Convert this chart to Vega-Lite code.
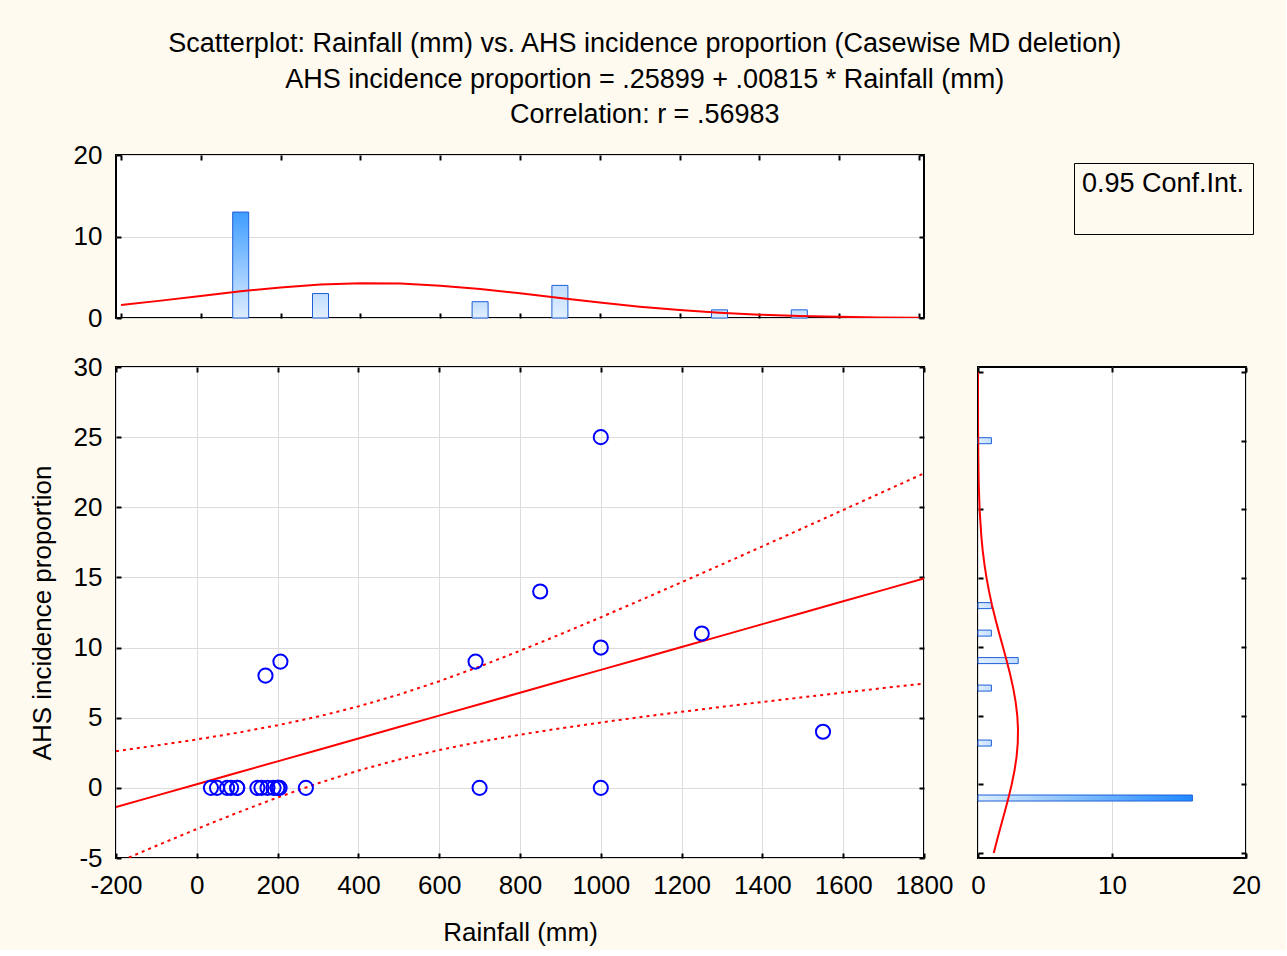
{
  "$schema": "https://vega.github.io/schema/vega-lite/v6.json",
  "background": "#FFFAF0",
  "padding": {"left": 28, "top": 30, "right": 24, "bottom": 4},
  "title": {
    "text": ["Scatterplot: Rainfall (mm) vs. AHS incidence proportion (Casewise MD deletion)", "AHS incidence proportion = .25899 + .00815 * Rainfall (mm)", "Correlation: r = .56983"],
    "fontSize": 27, "font": "Liberation Sans", "fontWeight": "normal", "color": "black",
    "lineHeight": 35.3, "offset": 12, "anchor": "middle", "frame": "bounds"
  },
  "config": {
    "view": {"fill": "white", "stroke": "black", "strokeWidth": 2},
    "axis": {
      "labelFont": "Liberation Sans", "labelFontSize": 26, "labelColor": "black",
      "titleFont": "Liberation Sans", "titleFontSize": 26, "titleFontWeight": "normal", "titleColor": "black",
      "tickColor": "black", "tickWidth": 2, "tickSize": -5, "domain": false,
      "gridColor": "#DCDCDC", "gridWidth": 1, "labelPadding": 19,
      "labelFlush": false, "labelOverlap": false, "labelExpr": "'' + datum.value"
    },
    "legend": {"titleFont": "Liberation Sans", "labelFont": "Liberation Sans"}
  },
  "datasets": {
    "points": [
      {"rain": 35, "ahs": 0}, {"rain": 50, "ahs": 0}, {"rain": 75, "ahs": 0}, {"rain": 85, "ahs": 0},
      {"rain": 100, "ahs": 0}, {"rain": 100, "ahs": 0}, {"rain": 150, "ahs": 0}, {"rain": 160, "ahs": 0},
      {"rain": 175, "ahs": 0}, {"rain": 190, "ahs": 0}, {"rain": 200, "ahs": 0}, {"rain": 200, "ahs": 0},
      {"rain": 205, "ahs": 0}, {"rain": 270, "ahs": 0}, {"rain": 700, "ahs": 0}, {"rain": 1000, "ahs": 0},
      {"rain": 170, "ahs": 8}, {"rain": 207, "ahs": 9}, {"rain": 690, "ahs": 9}, {"rain": 850, "ahs": 14},
      {"rain": 1000, "ahs": 25}, {"rain": 1000, "ahs": 10}, {"rain": 1250, "ahs": 11}, {"rain": 1550, "ahs": 4}
    ],
    "band": [
      {"rain": -200, "fit": -1.371, "lower": -5.358, "upper": 2.616},
      {"rain": -100, "fit": -0.556, "lower": -4.129, "upper": 3.017},
      {"rain": 0, "fit": 0.259, "lower": -2.931, "upper": 3.449},
      {"rain": 100, "fit": 1.074, "lower": -1.777, "upper": 3.925},
      {"rain": 200, "fit": 1.889, "lower": -0.684, "upper": 4.462},
      {"rain": 300, "fit": 2.704, "lower": 0.326, "upper": 5.082},
      {"rain": 400, "fit": 3.519, "lower": 1.232, "upper": 5.806},
      {"rain": 500, "fit": 4.334, "lower": 2.022, "upper": 6.646},
      {"rain": 600, "fit": 5.149, "lower": 2.698, "upper": 7.6},
      {"rain": 700, "fit": 5.964, "lower": 3.28, "upper": 8.648},
      {"rain": 800, "fit": 6.779, "lower": 3.788, "upper": 9.77},
      {"rain": 900, "fit": 7.594, "lower": 4.243, "upper": 10.945},
      {"rain": 1000, "fit": 8.409, "lower": 4.66, "upper": 12.158},
      {"rain": 1100, "fit": 9.224, "lower": 5.05, "upper": 13.398},
      {"rain": 1200, "fit": 10.039, "lower": 5.421, "upper": 14.657},
      {"rain": 1300, "fit": 10.854, "lower": 5.777, "upper": 15.931},
      {"rain": 1400, "fit": 11.669, "lower": 6.122, "upper": 17.216},
      {"rain": 1500, "fit": 12.484, "lower": 6.459, "upper": 18.509},
      {"rain": 1600, "fit": 13.299, "lower": 6.789, "upper": 19.809},
      {"rain": 1700, "fit": 14.114, "lower": 7.115, "upper": 21.113},
      {"rain": 1800, "fit": 14.929, "lower": 7.436, "upper": 22.422}
    ],
    "rainHist": [
      {"mid": 100, "count": 13}, {"mid": 300, "count": 3}, {"mid": 700, "count": 2},
      {"mid": 900, "count": 4}, {"mid": 1300, "count": 1}, {"mid": 1500, "count": 1}
    ],
    "ahsHist": [
      {"mid": -1, "count": 16}, {"mid": 3, "count": 1}, {"mid": 7, "count": 1}, {"mid": 9, "count": 3},
      {"mid": 11, "count": 1}, {"mid": 13, "count": 1}, {"mid": 25, "count": 1}
    ],
    "rainCurve": [
      {"rain": -200, "dens": 1.598}, {"rain": -100, "dens": 2.132}, {"rain": 0, "dens": 2.706},
      {"rain": 100, "dens": 3.268}, {"rain": 200, "dens": 3.754}, {"rain": 300, "dens": 4.102},
      {"rain": 400, "dens": 4.265}, {"rain": 500, "dens": 4.22}, {"rain": 600, "dens": 3.971},
      {"rain": 700, "dens": 3.556}, {"rain": 800, "dens": 3.029}, {"rain": 900, "dens": 2.455},
      {"rain": 1000, "dens": 1.893}, {"rain": 1100, "dens": 1.389}, {"rain": 1200, "dens": 0.97},
      {"rain": 1300, "dens": 0.644}, {"rain": 1400, "dens": 0.407}, {"rain": 1500, "dens": 0.244},
      {"rain": 1600, "dens": 0.14}, {"rain": 1700, "dens": 0.076}, {"rain": 1800, "dens": 0.039}
    ],
    "ahsCurve": [
      {"ahs": -5, "dens": 1.177}, {"ahs": -4, "dens": 1.438}, {"ahs": -3, "dens": 1.716},
      {"ahs": -2, "dens": 1.998}, {"ahs": -1, "dens": 2.27}, {"ahs": 0, "dens": 2.517},
      {"ahs": 1, "dens": 2.724}, {"ahs": 2, "dens": 2.878}, {"ahs": 3, "dens": 2.967},
      {"ahs": 4, "dens": 2.985}, {"ahs": 5, "dens": 2.931}, {"ahs": 6, "dens": 2.809},
      {"ahs": 7, "dens": 2.627}, {"ahs": 8, "dens": 2.398}, {"ahs": 9, "dens": 2.136},
      {"ahs": 10, "dens": 1.857}, {"ahs": 11, "dens": 1.576}, {"ahs": 12, "dens": 1.305},
      {"ahs": 13, "dens": 1.054}, {"ahs": 14, "dens": 0.832}, {"ahs": 15, "dens": 0.64},
      {"ahs": 16, "dens": 0.481}, {"ahs": 17, "dens": 0.353}, {"ahs": 18, "dens": 0.252},
      {"ahs": 20, "dens": 0.12}, {"ahs": 22, "dens": 0.052}, {"ahs": 24, "dens": 0.02},
      {"ahs": 26, "dens": 0.007}, {"ahs": 28, "dens": 0.002}, {"ahs": 30, "dens": 0.001}
    ]
  },
  "vconcat": [
    {
      "width": 808, "height": 163,
      "layer": [
        {
          "layer": [
            {
              "data": {"name": "rainHist"},
              "transform": [{"filter": "datum.count >= 10"}],
              "mark": {"type": "bar", "size": 16, "stroke": "#1E5FD8", "strokeWidth": 1,
                "fill": {"gradient": "linear", "x1": 0, "y1": 1, "x2": 0, "y2": 0,
                  "stops": [{"offset": 0, "color": "#DDEDFF"}, {"offset": 1, "color": "#3F9DFF"}]}},
              "encoding": {
                "x": {"field": "mid", "type": "quantitative", "scale": {"domain": [-200, 1800], "nice": false, "zero": false},
                  "axis": {"values": [-200, 0, 200, 400, 600, 800, 1000, 1200, 1400, 1600, 1800], "labels": false, "grid": false, "title": null}},
                "y": {"field": "count", "type": "quantitative", "scale": {"domain": [0, 20], "nice": false},
                  "axis": {"values": [0, 10, 20], "grid": true, "title": null}}
              }
            },
            {
              "data": {"name": "rainHist"},
              "transform": [{"filter": "datum.count < 10"}],
              "mark": {"type": "bar", "size": 16, "stroke": "#1E5FD8", "strokeWidth": 1,
                "fill": {"gradient": "linear", "x1": 0, "y1": 1, "x2": 0, "y2": 0,
                  "stops": [{"offset": 0, "color": "#E2F0FF"}, {"offset": 1, "color": "#C2DEFF"}]}},
              "encoding": {
                "x": {"field": "mid", "type": "quantitative", "scale": {"domain": [-200, 1800], "nice": false, "zero": false}},
                "y": {"field": "count", "type": "quantitative", "scale": {"domain": [0, 20], "nice": false}}
              }
            },
            {
              "data": {"name": "rainCurve"},
              "mark": {"type": "line", "color": "#FF0000", "strokeWidth": 2, "clip": true},
              "encoding": {
                "x": {"field": "rain", "type": "quantitative", "scale": {"domain": [-200, 1800], "nice": false, "zero": false}},
                "y": {"field": "dens", "type": "quantitative", "scale": {"domain": [0, 20], "nice": false}}
              }
            }
          ]
        },
        {
          "data": {"name": "rainHist"},
          "mark": {"type": "point", "opacity": 0},
          "encoding": {
            "x": {"field": "mid", "type": "quantitative", "scale": {"domain": [-200, 1800], "nice": false, "zero": false},
              "axis": {"orient": "top", "values": [-200, 0, 200, 400, 600, 800, 1000, 1200, 1400, 1600, 1800], "labels": false, "grid": false, "title": null}},
            "y": {"field": "count", "type": "quantitative", "scale": {"domain": [0, 20], "nice": false},
              "axis": {"orient": "right", "values": [0, 10, 20], "labels": false, "grid": false, "title": null}}
          }
        }
      ],
      "resolve": {"axis": {"x": "independent", "y": "independent"}}
    },
    {
      "hconcat": [
        {
          "width": 808, "height": 491,
          "layer": [
            {
              "layer": [
                {
                  "data": {"name": "band"},
                  "mark": {"type": "line", "color": "#FF0000", "strokeWidth": 2, "clip": true},
                  "encoding": {
                    "x": {"field": "rain", "type": "quantitative", "title": "Rainfall (mm)",
                      "scale": {"domain": [-200, 1800], "nice": false, "zero": false},
                      "axis": {"values": [-200, 0, 200, 400, 600, 800, 1000, 1200, 1400, 1600, 1800], "grid": true, "title": "Rainfall (mm)", "titlePadding": 21}},
                    "y": {"field": "fit", "type": "quantitative", "title": "AHS incidence proportion",
                      "scale": {"domain": [-5, 30], "nice": false, "zero": false},
                      "axis": {"values": [-5, 0, 5, 10, 15, 20, 25, 30], "grid": true, "title": "AHS incidence proportion", "titlePadding": 18}}
                  }
                },
                {
                  "data": {"name": "band"},
                  "mark": {"type": "line", "color": "#FF0000", "strokeWidth": 2, "clip": true},
                  "encoding": {
                    "x": {"field": "rain", "type": "quantitative", "title": "Rainfall (mm)", "scale": {"domain": [-200, 1800], "nice": false, "zero": false}},
                    "y": {"field": "upper", "type": "quantitative", "title": "AHS incidence proportion", "scale": {"domain": [-5, 30], "nice": false, "zero": false}},
                    "strokeDash": {"datum": "0.95 Conf.Int.", "scale": {"range": [[3, 4]]},
                      "legend": {"orient": "none", "legendX": 958, "legendY": 8, "title": "0.95 Conf.Int.",
                        "titleFontSize": 27, "titleFontWeight": "normal", "titleColor": "black", "titlePadding": 4,
                        "labelExpr": "''", "symbolOpacity": 0, "symbolStrokeWidth": 0, "symbolSize": 1300,
                        "strokeColor": "black", "padding": 8}}
                  }
                },
                {
                  "data": {"name": "band"},
                  "mark": {"type": "line", "color": "#FF0000", "strokeWidth": 2, "clip": true},
                  "encoding": {
                    "x": {"field": "rain", "type": "quantitative", "title": "Rainfall (mm)", "scale": {"domain": [-200, 1800], "nice": false, "zero": false}},
                    "y": {"field": "lower", "type": "quantitative", "title": "AHS incidence proportion", "scale": {"domain": [-5, 30], "nice": false, "zero": false}},
                    "strokeDash": {"datum": "0.95 Conf.Int."}
                  }
                },
                {
                  "data": {"name": "points"},
                  "mark": {"type": "point", "shape": "circle", "filled": false, "color": "#0000FF", "strokeWidth": 2, "size": 200, "opacity": 1},
                  "encoding": {
                    "x": {"field": "rain", "type": "quantitative", "title": "Rainfall (mm)", "scale": {"domain": [-200, 1800], "nice": false, "zero": false}},
                    "y": {"field": "ahs", "type": "quantitative", "title": "AHS incidence proportion", "scale": {"domain": [-5, 30], "nice": false, "zero": false}}
                  }
                }
              ]
            },
            {
              "data": {"name": "points"},
              "mark": {"type": "point", "opacity": 0},
              "encoding": {
                "x": {"field": "rain", "type": "quantitative", "scale": {"domain": [-200, 1800], "nice": false, "zero": false},
                  "axis": {"orient": "top", "values": [-200, 0, 200, 400, 600, 800, 1000, 1200, 1400, 1600, 1800], "labels": false, "grid": false, "title": null}},
                "y": {"field": "ahs", "type": "quantitative", "scale": {"domain": [-5, 30], "nice": false, "zero": false},
                  "axis": {"orient": "right", "values": [-5, 0, 5, 10, 15, 20, 25, 30], "labels": false, "grid": false, "title": null}}
              }
            }
          ],
          "resolve": {"axis": {"x": "independent", "y": "independent"}}
        },
        {
          "width": 268, "height": 491,
          "layer": [
            {
              "layer": [
                {
                  "data": {"name": "ahsHist"},
                  "transform": [{"filter": "datum.count >= 10"}],
                  "mark": {"type": "bar", "orient": "horizontal", "size": 6, "stroke": "#1E5FD8", "strokeWidth": 1,
                    "fill": {"gradient": "linear", "x1": 0, "y1": 0, "x2": 1, "y2": 0,
                      "stops": [{"offset": 0, "color": "#DDEDFF"}, {"offset": 1, "color": "#1E88FF"}]}},
                  "encoding": {
                    "x": {"field": "count", "type": "quantitative", "scale": {"domain": [0, 20], "nice": false},
                      "axis": {"values": [0, 10, 20], "grid": true, "title": null}},
                    "y": {"field": "mid", "type": "quantitative", "scale": {"domain": [-5, 30], "nice": false, "zero": false},
                      "axis": {"values": [-5, 0, 5, 10, 15, 20, 25, 30], "labels": false, "grid": false, "title": null}}
                  }
                },
                {
                  "data": {"name": "ahsHist"},
                  "transform": [{"filter": "datum.count < 10"}],
                  "mark": {"type": "bar", "orient": "horizontal", "size": 6, "stroke": "#1E5FD8", "strokeWidth": 1,
                    "fill": {"gradient": "linear", "x1": 0, "y1": 0, "x2": 1, "y2": 0,
                      "stops": [{"offset": 0, "color": "#E2F0FF"}, {"offset": 1, "color": "#C2DEFF"}]}},
                  "encoding": {
                    "x": {"field": "count", "type": "quantitative", "scale": {"domain": [0, 20], "nice": false}},
                    "y": {"field": "mid", "type": "quantitative", "scale": {"domain": [-5, 30], "nice": false, "zero": false}}
                  }
                },
                {
                  "data": {"name": "ahsCurve"},
                  "mark": {"type": "line", "color": "#FF0000", "strokeWidth": 2, "clip": true},
                  "encoding": {
                    "x": {"field": "dens", "type": "quantitative", "scale": {"domain": [0, 20], "nice": false}},
                    "y": {"field": "ahs", "type": "quantitative", "scale": {"domain": [-5, 30], "nice": false, "zero": false}},
                    "order": {"field": "ahs", "type": "quantitative"}
                  }
                }
              ]
            },
            {
              "data": {"name": "ahsHist"},
              "mark": {"type": "point", "opacity": 0},
              "encoding": {
                "x": {"field": "count", "type": "quantitative", "scale": {"domain": [0, 20], "nice": false},
                  "axis": {"orient": "top", "values": [0, 10, 20], "labels": false, "grid": false, "title": null}},
                "y": {"field": "mid", "type": "quantitative", "scale": {"domain": [-5, 30], "nice": false, "zero": false},
                  "axis": {"orient": "right", "values": [-5, 0, 5, 10, 15, 20, 25, 30], "labels": false, "grid": false, "title": null}}
              }
            }
          ],
          "resolve": {"axis": {"x": "independent", "y": "independent"}}
        }
      ],
      "spacing": 54,
      "bounds": "flush"
    }
  ],
  "spacing": 49,
  "bounds": "flush"
}
